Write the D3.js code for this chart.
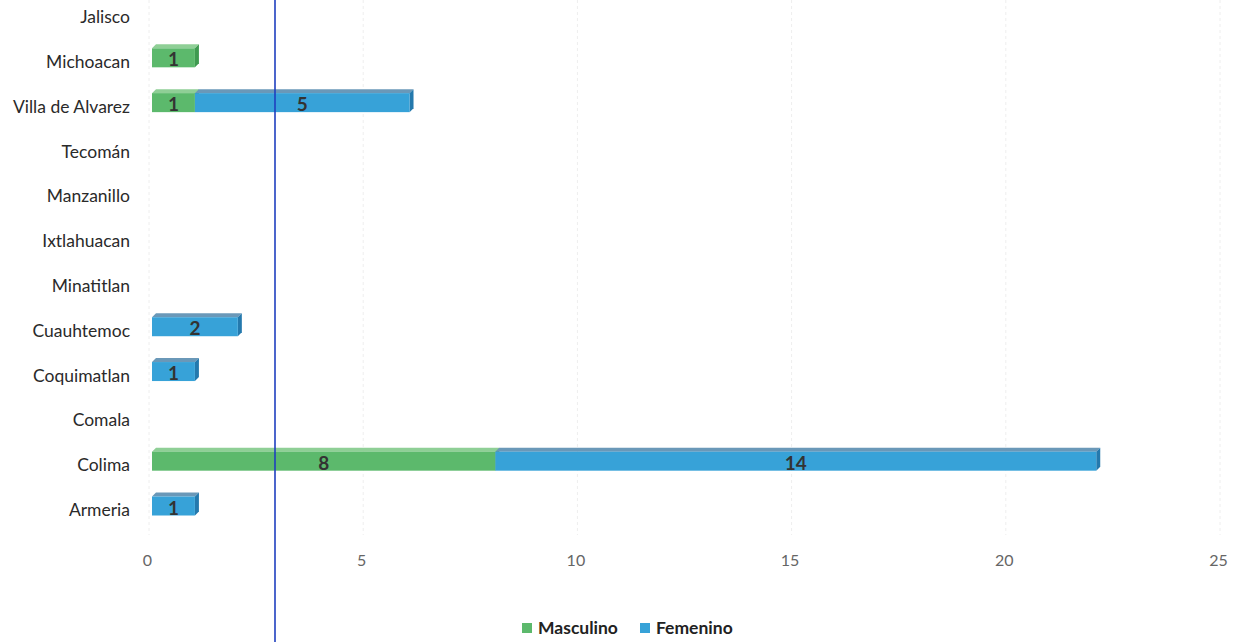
<!DOCTYPE html>
<html><head><meta charset="utf-8">
<script src="https://cdn.jsdelivr.net/npm/d3@7"></script>
<style>body{margin:0;background:#fff}svg{display:block}</style>
</head><body>
<script>
const categories = ["Jalisco","Michoacan","Villa de Alvarez","Tecomán","Manzanillo","Ixtlahuacan","Minatitlan","Cuauhtemoc","Coquimatlan","Comala","Colima","Armeria"];
const masculino = [0,1,1,0,0,0,0,0,0,0,8,0];
const femenino  = [0,0,5,0,0,0,0,2,1,0,14,1];
const seriesNames = ["Masculino","Femenino"];
const xTicks = [0,5,10,15,20,25];

const W=1239,H=642;
const font="Lato, 'Open Sans', sans-serif";
const svg=d3.select("body").append("svg").attr("width",W).attr("height",H);

const xAxisScale=d3.scaleLinear().domain([0,25]).range([147,1218]);
const xBar=d3.scaleLinear().domain([0,25]).range([152,1225]);
const y=d3.scalePoint().domain(categories).range([17,510]);

const colors={Masculino:{front:"#5cb96c",top:"#8fcf96",side:"#3f9a50"},
              Femenino:{front:"#37a2d8",top:"#6a98b8",side:"#2479ad"}};

// faint gridlines
svg.append("g").selectAll("line").data(xTicks).join("line")
  .attr("x1",d=>xAxisScale(d)+2).attr("x2",d=>xAxisScale(d)+2)
  .attr("y1",0).attr("y2",535)
  .attr("stroke","#eeeeee").attr("stroke-dasharray","3,3").attr("stroke-width",1);

// category labels
svg.append("g").selectAll("text").data(categories).join("text")
  .attr("x",130).attr("y",d=>y(d)).attr("dy","0.35em")
  .attr("text-anchor","end").attr("font-family",font).attr("font-size",17.5)
  .attr("fill","#2a2a2a").text(d=>d);

// x axis
const ax=svg.append("g").attr("transform","translate(0,552)")
  .call(d3.axisBottom(xAxisScale).tickValues(xTicks).tickSize(0).tickPadding(0));
ax.select(".domain").remove();
ax.selectAll("text").attr("font-family",font).attr("font-size",16).attr("fill","#666").attr("dy","0.9em");

// stacked data
const rows=categories.map((c,i)=>({cat:c,Masculino:masculino[i],Femenino:femenino[i]}));
const stacked=d3.stack().keys(seriesNames)(rows);

const bh=19, dx=4, dy=4;
const g=svg.append("g");
stacked.forEach(s=>{
  const col=colors[s.key];
  s.forEach(d=>{
    const v=d[1]-d[0];
    if(v<=0) return;
    const x0=xBar(d[0]), x1=xBar(d[1]);
    const yc=y(d.data.cat)-4, yt=yc-bh/2, yb=yc+bh/2;
    g.append("path").attr("d",`M${x0},${yt}L${x0+dx},${yt-dy}L${x1+dx},${yt-dy}L${x1},${yt}Z`).attr("fill",col.top);
    g.append("path").attr("d",`M${x1},${yt}L${x1+dx},${yt-dy}L${x1+dx},${yb-dy}L${x1},${yb}Z`).attr("fill",col.side);
    g.append("rect").attr("x",x0).attr("y",yt).attr("width",x1-x0).attr("height",bh).attr("fill",col.front);
    g.append("text").attr("x",(x0+x1)/2).attr("y",yc+2).attr("dy","0.35em")
      .attr("text-anchor","middle").attr("font-family",font).attr("font-weight","bold")
      .attr("font-size",19).attr("fill","#333").text(v);
  });
});

// blue vertical line
svg.append("line").attr("x1",275).attr("x2",275).attr("y1",0).attr("y2",H)
  .attr("stroke","#1f3fbf").attr("stroke-width",1.6);

// legend
const leg=svg.append("g").attr("transform","translate(0,628)");
const legX=[522,640];
seriesNames.forEach((n,i)=>{
  leg.append("rect").attr("x",legX[i]).attr("y",-5).attr("width",10).attr("height",10).attr("fill",colors[n].front);
  leg.append("text").attr("x",legX[i]+16).attr("y",0).attr("dy","0.35em")
    .attr("font-family",font).attr("font-weight","bold").attr("font-size",17.5).attr("fill","#222").text(n);
});
</script>
</body></html>
